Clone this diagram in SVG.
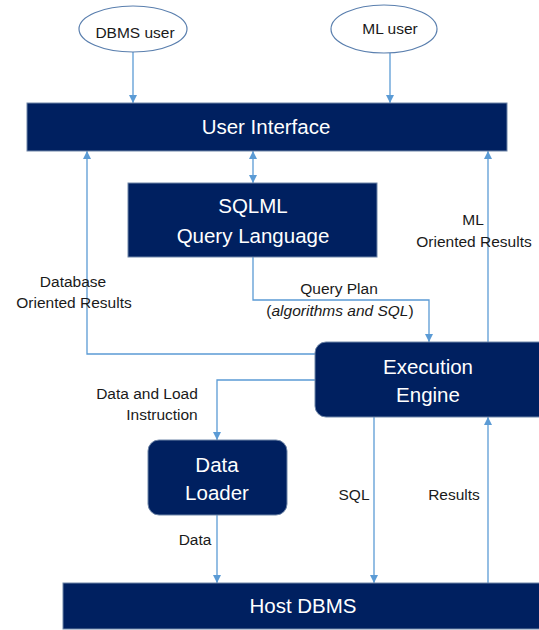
<svg xmlns="http://www.w3.org/2000/svg" width="539" height="630" viewBox="0 0 539 630">
  <style>
    .box { fill: #002060; stroke: #6f86a8; stroke-width: 1; }
    .user { fill: #ffffff; stroke: #5a7fae; stroke-width: 1.2; }
    .btxt { font-family: "Liberation Sans", Arial, sans-serif; font-size: 20.5px; fill: #ffffff; text-anchor: middle; }
    .utxt { font-family: "Liberation Sans", Arial, sans-serif; font-size: 15.5px; fill: #1a1a1a; text-anchor: middle; }
    .lbl { font-family: "Liberation Sans", Arial, sans-serif; font-size: 15.5px; fill: #1a1a1a; text-anchor: middle; }
    .wire { fill: none; stroke: #5b9bd5; stroke-width: 1.3; }
  </style>
  <defs>
    <marker id="arr" viewBox="0 0 10 10" refX="10" refY="5" markerWidth="8" markerHeight="8" markerUnits="userSpaceOnUse" orient="auto-start-reverse">
      <path d="M0,0 L10,5 L0,10 z" fill="#5b9bd5"/>
    </marker>
  </defs>

  <rect width="539" height="630" fill="#ffffff"/>

  <g id="connectors">
    <path class="wire" d="M133,52 V103" marker-end="url(#arr)"/>
    <path class="wire" d="M390,53 V103" marker-end="url(#arr)"/>
    <path class="wire" d="M253,151 V183" marker-start="url(#arr)" marker-end="url(#arr)"/>
    <path class="wire" d="M253,257 V300 H429 V342" marker-end="url(#arr)"/>
    <path class="wire" d="M316,354 H87 V151" marker-end="url(#arr)"/>
    <path class="wire" d="M488,342 V151" marker-end="url(#arr)"/>
    <path class="wire" d="M316,380 H217 V440" marker-end="url(#arr)"/>
    <path class="wire" d="M217,515 V583" marker-end="url(#arr)"/>
    <path class="wire" d="M374,417 V583" marker-end="url(#arr)"/>
    <path class="wire" d="M488,583 V417" marker-end="url(#arr)"/>
  </g>

  <g id="dbms-user">
    <ellipse class="user" cx="133" cy="29" rx="54" ry="23"/>
    <text class="utxt" x="135" y="38">DBMS user</text>
  </g>
  <g id="ml-user">
    <ellipse class="user" cx="384" cy="29" rx="53" ry="24"/>
    <text class="utxt" x="390" y="34">ML user</text>
  </g>

  <g id="user-interface">
    <rect class="box" x="27" y="103" width="480" height="48"/>
    <text class="btxt" x="266" y="134">User Interface</text>
  </g>

  <g id="sqlml">
    <rect class="box" x="128" y="183" width="249" height="74"/>
    <text class="btxt" x="253" y="213">SQLML</text>
    <text class="btxt" x="253" y="243">Query Language</text>
  </g>

  <g id="execution-engine">
    <rect class="box" x="315" y="342" width="236" height="75" rx="11"/>
    <text class="btxt" x="428" y="374">Execution</text>
    <text class="btxt" x="428" y="402">Engine</text>
  </g>

  <g id="data-loader">
    <rect class="box" x="148" y="440" width="139" height="75" rx="11"/>
    <text class="btxt" x="217" y="472">Data</text>
    <text class="btxt" x="217" y="500">Loader</text>
  </g>

  <g id="host-dbms">
    <rect class="box" x="63" y="583" width="490" height="46"/>
    <text class="btxt" x="303" y="613">Host DBMS</text>
  </g>

  <g id="labels">
    <text class="lbl" x="73" y="287">Database</text>
    <text class="lbl" x="74" y="308">Oriented Results</text>
    <text class="lbl" x="473" y="225">ML</text>
    <text class="lbl" x="474" y="247">Oriented Results</text>
    <text class="lbl" x="339" y="294">Query Plan</text>
    <text class="lbl" x="340" y="316">(<tspan font-style="italic">algorithms and SQL</tspan>)</text>
    <text class="lbl" x="147" y="399">Data and Load</text>
    <text class="lbl" x="162" y="420">Instruction</text>
    <text class="lbl" x="195" y="545">Data</text>
    <text class="lbl" x="354" y="500">SQL</text>
    <text class="lbl" x="454" y="500">Results</text>
  </g>
</svg>
